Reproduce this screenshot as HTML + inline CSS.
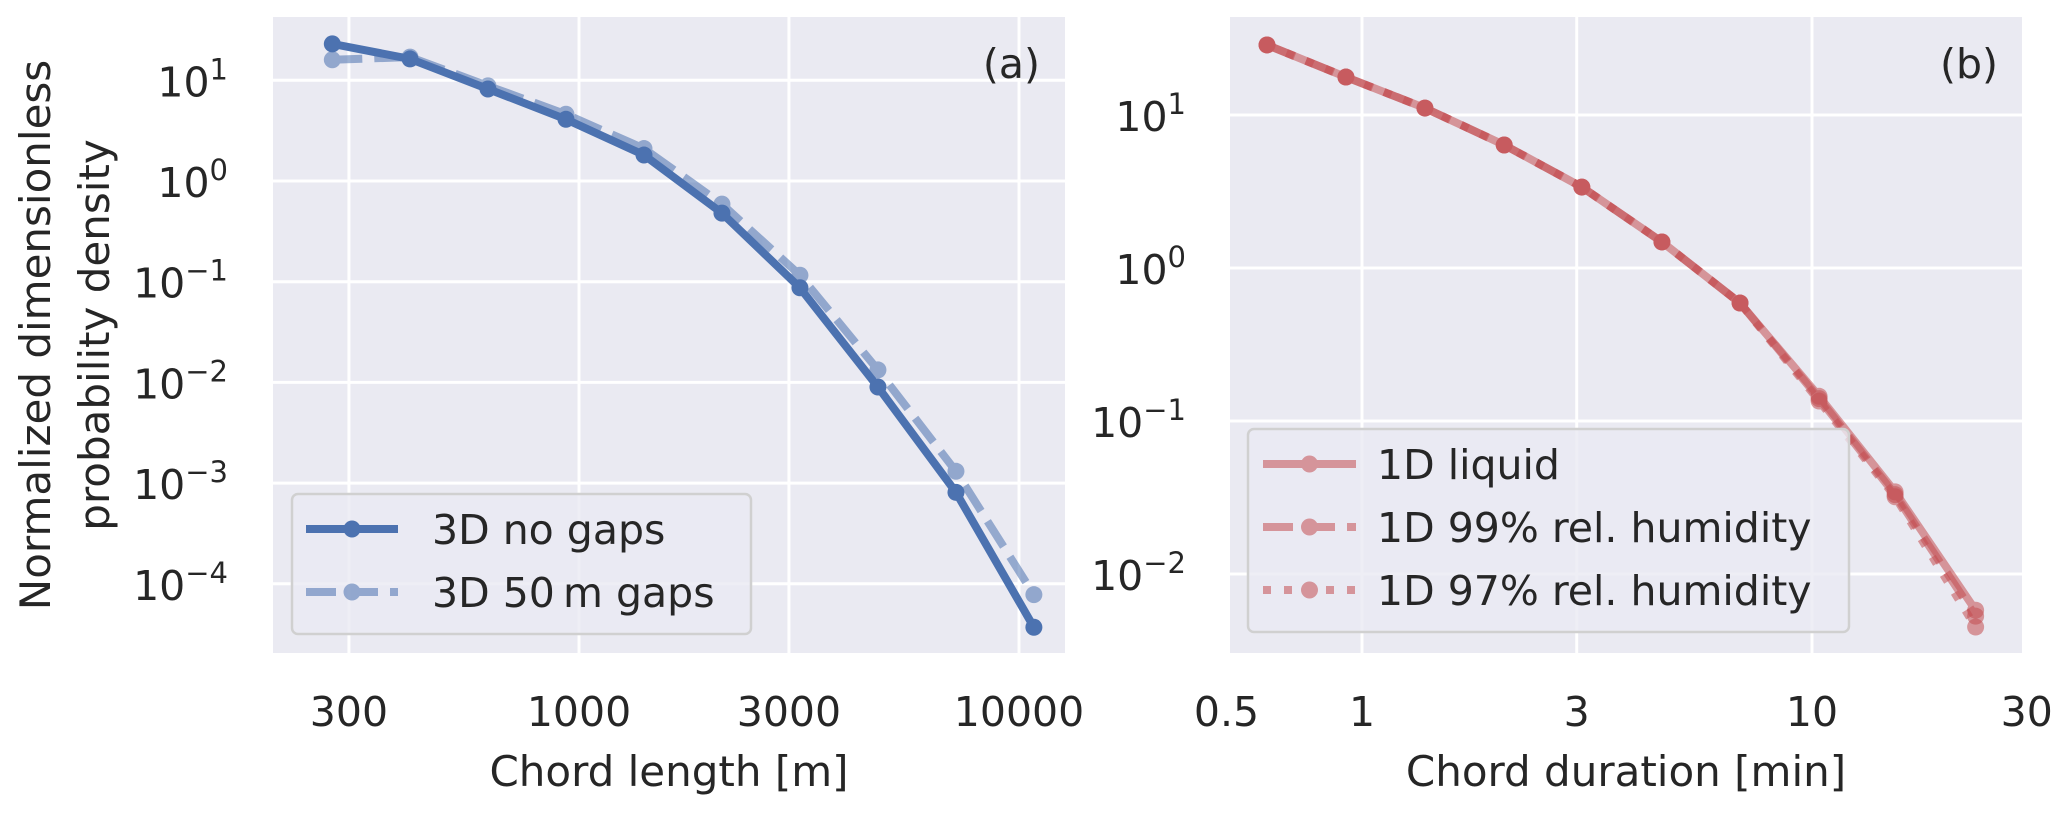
<!DOCTYPE html>
<html><head><meta charset="utf-8">
<style>
html,body{margin:0;padding:0;background:#fff;}
svg{display:block;font-family:"DejaVu Sans","Liberation Sans",sans-serif;}
</style></head>
<body>
<svg id="chart" width="2067" height="814" viewBox="0 0 2067 814" xmlns="http://www.w3.org/2000/svg">
<rect x="273" y="17" width="792" height="636" fill="#EAEAF2"/>
<rect x="1230" y="17" width="792" height="636" fill="#EAEAF2"/>
<g id="gridA"></g>
<g id="gridB"></g>
<g id="seriesA"></g>
<g id="seriesB"></g>
<g id="ticks" fill="#262626" font-size="41"></g>
<text x="1040" y="78" text-anchor="end" font-size="41" fill="#262626">(a)</text>
<text x="1998" y="78" text-anchor="end" font-size="41" fill="#262626">(b)</text>
<text x="669" y="786" text-anchor="middle" font-size="42" fill="#262626">Chord length [m]</text>
<text x="1626" y="786" text-anchor="middle" font-size="42" fill="#262626">Chord duration [min]</text>
<text transform="translate(50,335) rotate(-90)" text-anchor="middle" font-size="42" fill="#262626"><tspan x="0" y="0">Normalized dimensionless</tspan><tspan x="0" y="59">probability density</tspan></text>
<g id="legendA"></g>
<g id="legendB"></g>
</svg>
<script>
const xA = [275, 413, 621, 934, 1405, 2113, 3178, 4780, 7190, 10810];
const noGaps = [23, 16.3, 8.2, 4.1, 1.81, 0.48, 0.087, 0.009, 0.00081, 0.000037];
const gaps50 = [16, 17, 8.8, 4.6, 2.1, 0.59, 0.116, 0.0133, 0.00131, 0.000078];
const xB = [0.615, 0.921, 1.38, 2.07, 3.08, 4.64, 6.92, 10.37, 15.3, 23.1];
const liquid = [28.7, 17.7, 11.1, 6.37, 3.38, 1.48, 0.59, 0.145, 0.0344, 0.0058];
const rh99 = [28.7, 17.7, 11.1, 6.37, 3.38, 1.48, 0.59, 0.14, 0.033, 0.0053];
const rh97 = [28.7, 17.7, 11.1, 6.37, 3.38, 1.48, 0.59, 0.135, 0.032, 0.0045];
const xTicksA = [300, 1000, 3000, 10000];
const xTicksB = [0.5, 1, 3, 10, 30];
const xTickLabelsB = ["0.5", "1", "3", "10", "30"];
const yExpA = [1, 0, -1, -2, -3, -4];
const yExpB = [1, 0, -1, -2];

const NS = "http://www.w3.org/2000/svg";
const L = Math.log10;
const sxA = v => 579 + 440 * L(v / 1000);
const syA = v => 181 - 100.7 * L(v);
const sxB = v => 1362 + 450 * L(v);
const syB = v => 268 - 153 * L(v);
const BLUE = "#4C72B0", RED = "#C44E52";

function mk(tag, attrs, parent) {
  const e = document.createElementNS(NS, tag);
  for (const k in attrs) e.setAttribute(k, attrs[k]);
  parent.appendChild(e);
  return e;
}

function grid(g, xs, sx, exps, sy, x0, x1) {
  xs.forEach(v => {
    const l = mk("line", {x1: sx(v), x2: sx(v), y1: 17, y2: 653, stroke: "#fff", "stroke-width": 3}, g);
    
    
  });
  exps.forEach(e => {
    const y = sy(Math.pow(10, e));
    const l = mk("line", {x1: x0, x2: x1, y1: y, y2: y, stroke: "#fff", "stroke-width": 3}, g);
    
    
  });
}
grid(document.getElementById("gridA"), xTicksA, sxA, yExpA, syA, 273, 1065);
grid(document.getElementById("gridB"), xTicksB.slice(1, 4), sxB, yExpB, syB, 1230, 2022);

function series(g, xs, ys, sx, sy, color, opacity, dash, name) {
  const grp = mk("g", {opacity: opacity}, g);
  
  
  const pts = xs.map((x, i) => sx(x) + "," + sy(ys[i])).join(" ");
  const attrs = {points: pts, fill: "none", stroke: color, "stroke-width": 8, "stroke-linejoin": "round"};
  if (dash) attrs["stroke-dasharray"] = dash;
  const pl = mk("polyline", attrs, grp);
  
  
  xs.forEach((x, i) => {
    const c = mk("circle", {cx: sx(x), cy: sy(ys[i]), r: 8.5, fill: color}, grp);
    
    
  });
}
const sA = document.getElementById("seriesA");
series(sA, xA, gaps50, sxA, syA, BLUE, 0.55, "30 12", "series-3d-50m-gaps");
series(sA, xA, noGaps, sxA, syA, BLUE, 1, null, "series-3d-no-gaps");
const sB = document.getElementById("seriesB");
series(sB, xB, liquid, sxB, syB, RED, 0.55, null, "series-1d-liquid");
series(sB, xB, rh99, sxB, syB, RED, 0.55, "30 12", "series-1d-99-rh");
series(sB, xB, rh97, sxB, syB, RED, 0.55, "8 13", "series-1d-97-rh");

const tk = document.getElementById("ticks");
xTicksA.forEach(v => {
  const t = mk("text", {x: sxA(v), y: 726, "text-anchor": "middle"}, tk);
  t.textContent = String(v);
  
  
});
xTicksB.forEach((v, i) => {
  const t = mk("text", {x: sxB(v), y: 726, "text-anchor": "middle"}, tk);
  t.textContent = xTickLabelsB[i];
  
  
});
function yTicks(exps, sy, xr) {
  exps.forEach(e => {
    const y = sy(Math.pow(10, e));
    const t = mk("text", {x: xr, y: y + 16, "text-anchor": "end"}, tk);
    
    
    const a = mk("tspan", {}, t); a.textContent = "10";
    const b = mk("tspan", {dy: -17, "font-size": 29}, t);
    b.textContent = e < 0 ? "\u2212" + (-e) : String(e);
  });
}
yTicks(yExpA, syA, 228);
yTicks(yExpB, syB, 1186);

function legend(g, box, items) {
  const r = mk("rect", {x: box[0], y: box[1], width: box[2], height: box[3], rx: 6, fill: "#EAEAF2", "fill-opacity": 0.8, stroke: "#d0d0d0", "stroke-width": 2.5}, g);
  
  
  items.forEach(it => {
    const grp = mk("g", {opacity: it.op}, g);
    
    
    const a = {x1: it.x0, x2: it.x1, y1: it.y, y2: it.y, stroke: it.c, "stroke-width": 8};
    if (it.dash) a["stroke-dasharray"] = it.dash;
    mk("line", a, grp);
    mk("circle", {cx: (it.x0 + it.x1) / 2, cy: it.y, r: 8.5, fill: it.c}, grp);
    const t = mk("text", {x: it.tx, y: it.y + 15, "font-size": 41, fill: "#262626"}, g);
    t.textContent = it.label;
    
    
  });
}
legend(document.getElementById("legendA"), [292, 494, 459, 140], [
  {x0: 306, x1: 398, y: 529, c: BLUE, op: 1, dash: null, tx: 432, label: "3D no gaps"},
  {x0: 306, x1: 398, y: 592, c: BLUE, op: 0.55, dash: "30 12", tx: 432, label: "3D 50\u2009m gaps"}
]);
legend(document.getElementById("legendB"), [1248, 429, 601, 203], [
  {x0: 1263, x1: 1356, y: 464, c: RED, op: 0.55, dash: null, tx: 1377, label: "1D liquid"},
  {x0: 1263, x1: 1356, y: 527, c: RED, op: 0.55, dash: "30 12", tx: 1377, label: "1D 99% rel. humidity"},
  {x0: 1263, x1: 1356, y: 590, c: RED, op: 0.55, dash: "8 13", tx: 1377, label: "1D 97% rel. humidity"}
]);
</script>
</body></html>
